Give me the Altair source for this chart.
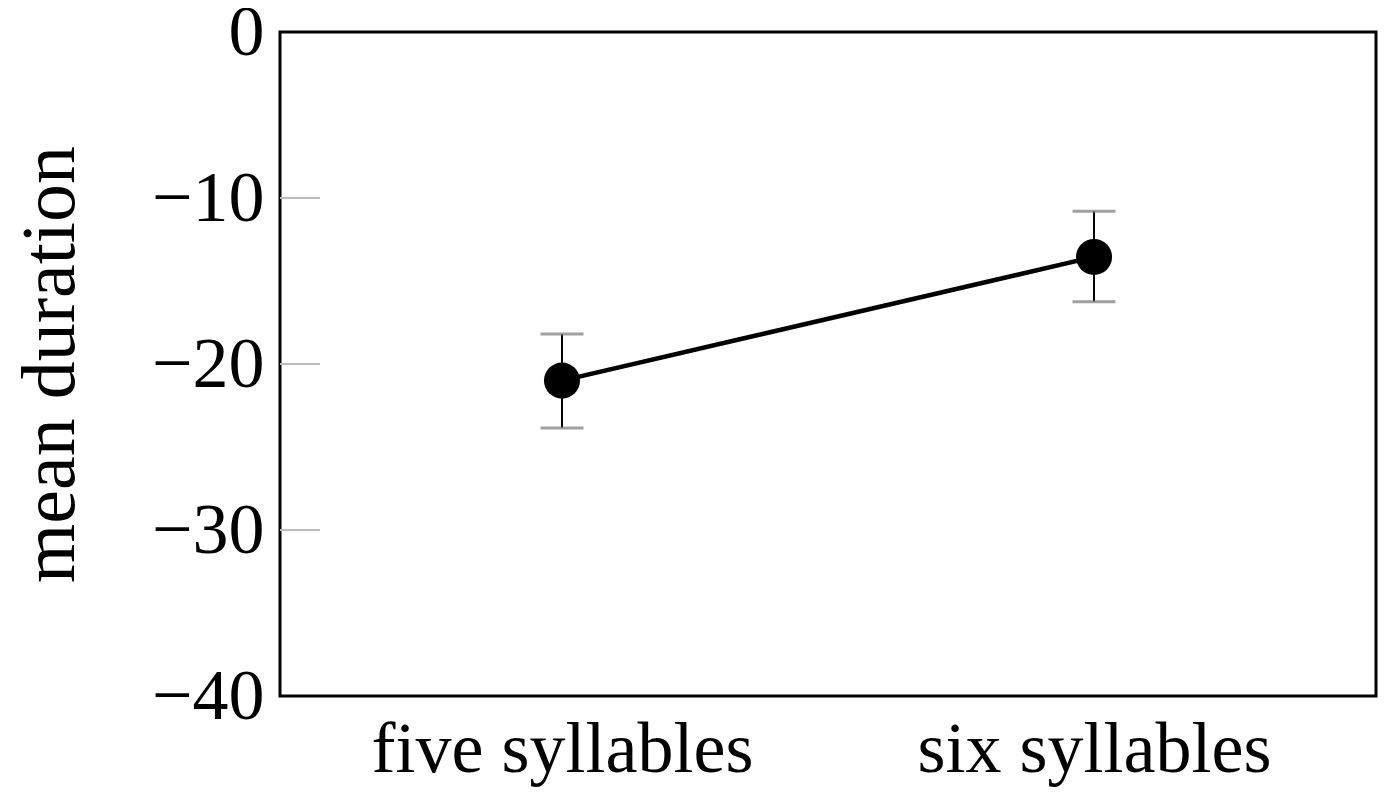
import altair as alt
import pandas as pd

categories = ["five syllables", "six syllables"]
means = [-21.0, -13.55]
upper = [-18.2, -10.8]
lower = [-23.85, -16.25]
ytick_values = [-10, -20, -30]

df = pd.DataFrame({"cond": categories, "mean": means, "hi": upper, "lo": lower})
ticks_df = pd.DataFrame({"v": ytick_values})

FONT = "Liberation Serif"

x_enc = alt.X("cond:N", scale=alt.Scale(type="point", padding=0.53),
              sort=categories,
              axis=alt.Axis(title=None, labelFont=FONT, labelFontSize=72, labelColor="black",
                            ticks=False, domain=False, labelPadding=18, labelAngle=0,
                            labelLimit=0))
y_scale = alt.Scale(domain=[-40, 0], nice=False)
y_axis = alt.Axis(title="mean duration", titleFont=FONT, titleFontSize=76, titleFontWeight="normal",
                  titleColor="black", labelFont=FONT, labelFontSize=72, labelColor="black",
                  values=[0, -10, -20, -30, -40], ticks=False, domain=False, grid=False,
                  labelPadding=16, titlePadding=62, labelLimit=0)

base = alt.Chart(df)

rules = alt.Chart(ticks_df).mark_rule(color="#bbbbbb", strokeWidth=2).encode(
    y=alt.Y("v:Q", scale=y_scale, axis=y_axis),
    x=alt.value(0), x2=alt.value(40))

stems = base.mark_rule(color="black", strokeWidth=2).encode(
    x=x_enc, y=alt.Y("lo:Q", scale=y_scale), y2="hi:Q")

caps_hi = base.mark_tick(color="#777777", size=43, thickness=3).encode(
    x=x_enc, y=alt.Y("hi:Q", scale=y_scale))
caps_lo = base.mark_tick(color="#777777", size=43, thickness=3).encode(
    x=x_enc, y=alt.Y("lo:Q", scale=y_scale))

line = base.mark_line(color="black", strokeWidth=4.5).encode(
    x=x_enc, y=alt.Y("mean:Q", scale=y_scale))
pts = base.mark_point(filled=True, color="black", size=1300, opacity=1, shape="circle").encode(
    x=x_enc, y=alt.Y("mean:Q", scale=y_scale))

chart = alt.layer(rules, stems, caps_hi, caps_lo, line, pts).properties(
    width=1096, height=664,
    autosize=alt.AutoSizeParams(type="none"),
    padding={"left": 272, "top": 24, "right": 16, "bottom": 93},
).configure(background="white").configure_view(stroke="black", strokeWidth=3)

chart.save("out.html", embed_options={"renderer": "svg", "actions": False})
